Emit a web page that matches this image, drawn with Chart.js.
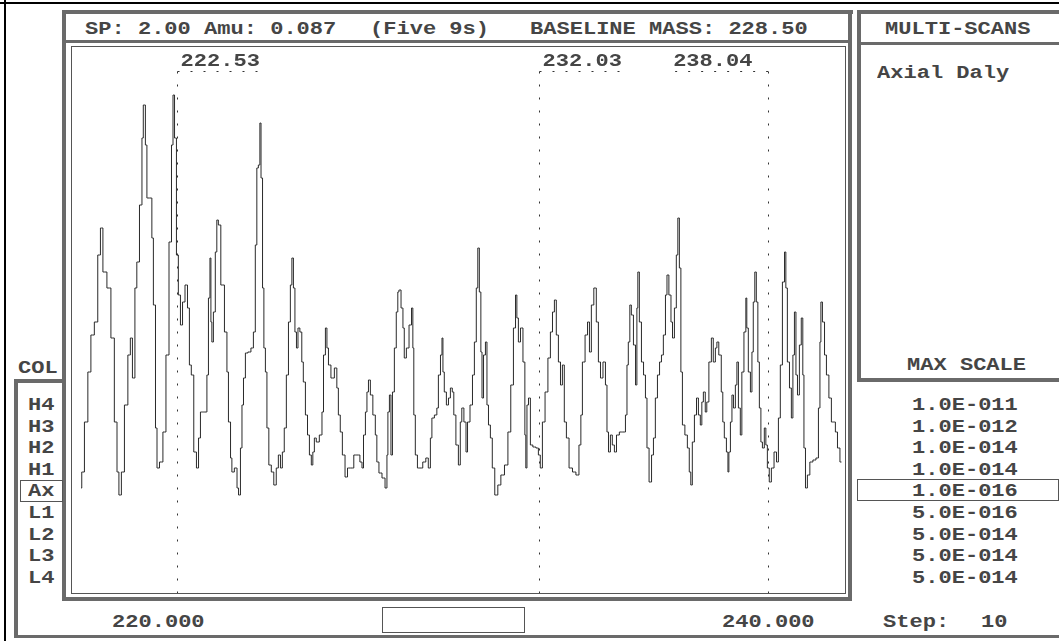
<!DOCTYPE html>
<html>
<head>
<meta charset="utf-8">
<script src="https://cdn.jsdelivr.net/npm/chart.js@4.4.1/dist/chart.umd.min.js"></script>
<style>
	body { margin: 0; background: #fff; }
	#screen { position: relative; width: 1059px; height: 641px; overflow: hidden; background: #fff; }
	#plot { position: absolute; left: 0; top: 0; z-index: 2; }
	.hatch { position: absolute; background: #6a6a6a; }
	.black { position: absolute; background: #000; }
	.box { position: absolute; box-sizing: border-box; border: 1px solid #555; }
	.t {
		position: absolute; white-space: pre; line-height: 20px; height: 20px;
		font: bold 19px "Liberation Mono", monospace; color: #454545;
		transform: scaleX(1.16); transform-origin: 0 50%;
	}
</style>
</head>
<body>
<div id="screen">
	<!-- page edge -->
	<div class="black" style="left:0;top:2px;width:1059px;height:2px"></div>
	<div class="black" style="left:4px;top:0;width:2px;height:641px"></div>

	<!-- plot frame -->
	<div class="hatch" style="left:62px;top:10px;width:791px;height:4px"></div>
	<div class="hatch" style="left:62px;top:10px;width:4px;height:591px"></div>
	<div class="hatch" style="left:848px;top:10px;width:4px;height:591px"></div>
	<div class="hatch" style="left:62px;top:597px;width:790px;height:4px"></div>
	<div class="hatch" style="left:66px;top:40px;width:782px;height:3px"></div>
	<div class="box" style="left:71px;top:46px;width:775px;height:548px"></div>

	<!-- right panel -->
	<div class="hatch" style="left:857px;top:10px;width:4px;height:372px"></div>
	<div class="hatch" style="left:857px;top:10px;width:202px;height:4px"></div>
	<div class="hatch" style="left:857px;top:42px;width:202px;height:3px"></div>
	<div class="hatch" style="left:857px;top:378px;width:202px;height:4px"></div>

	<!-- left collector panel and bottom bar -->
	<div class="hatch" style="left:14px;top:379px;width:52px;height:4px"></div>
	<div class="hatch" style="left:14px;top:379px;width:4px;height:259px"></div>
	<div class="hatch" style="left:14px;top:635px;width:1045px;height:3px"></div>
	<div class="box" style="left:382px;top:607px;width:143px;height:26px"></div>
	<div class="box" style="left:20px;top:480px;width:43px;height:22px"></div>
	<div class="box" style="left:857px;top:479px;width:202px;height:22px"></div>

	<div class="t" style="left:85px;top:18px">SP: 2.00 Amu: 0.087</div>
	<div class="t" style="left:370px;top:18px">(Five 9s)</div>
	<div class="t" style="left:530px;top:18px">BASELINE MASS: 228.50</div>
	<div class="t" style="left:885px;top:18px">MULTI-SCANS</div>
	<div class="t" style="left:877px;top:62px">Axial Daly</div>
	<div class="t" style="left:18px;top:357px">COL</div>
	<div class="t" style="left:907px;top:354px">MAX SCALE</div>
	<div class="t" style="left:112px;top:611px">220.000</div>
	<div class="t" style="left:722px;top:611px">240.000</div>
	<div class="t" style="left:883px;top:611px">Step:</div>
	<div class="t" style="left:981px;top:611px">10</div>

	<canvas id="plot" width="1059" height="641"></canvas>
</div>
<script>
// Mass axis (amu) of the scan trace
let mass = [
	220.00, 220.04, 220.14, 220.22, 220.30, 220.40, 220.48, 220.54, 220.61, 220.75,
	220.82, 220.93, 220.96, 221.03, 221.09, 221.19, 221.27, 221.32, 221.38, 221.45,
	221.48, 221.59, 221.61, 221.66, 221.72, 221.74, 221.85, 221.87, 221.93, 221.98,
	222.01, 222.11, 222.19, 222.27, 222.35, 222.40, 222.43, 222.48, 222.53, 222.58,
	222.64, 222.69, 222.77, 222.82, 222.87, 222.92, 223.00, 223.06, 223.11, 223.16,
	223.21,
	223.29, 223.32, 223.37, 223.40, 223.42, 223.45, 223.50, 223.55, 223.58, 223.63,
	223.71, 223.82, 223.84, 223.90, 223.95, 223.97, 224.08, 224.11, 224.16, 224.21,
	224.24, 224.29, 224.34, 224.42, 224.50, 224.55, 224.60, 224.63, 224.68, 224.71,
	224.74, 224.79, 224.81, 224.87, 224.89, 224.97, 225.02, 225.10, 225.15, 225.21,
	225.26, 225.31, 225.36, 225.42, 225.47, 225.52, 225.55, 225.60, 225.63, 225.68,
	225.71, 225.78, 225.81, 225.86, 225.92, 225.97, 226.02, 226.07, 226.10, 226.15,
	226.20, 226.31, 226.34, 226.39, 226.44, 226.47, 226.52, 226.60,
	226.70, 226.73, 226.78, 226.83, 226.89, 226.97, 227.02, 227.12, 227.20, 227.28,
	227.36, 227.39, 227.44, 227.49, 227.52, 227.57, 227.62, 227.70, 227.75, 227.78,
	227.86, 227.94, 228.02, 228.04, 228.07, 228.12, 228.15, 228.20, 228.25, 228.30,
	228.33, 228.36, 228.44, 228.46, 228.51, 228.57, 228.65, 228.70, 228.72, 228.75,
	228.80, 228.86, 228.93, 229.01, 229.09, 229.14, 229.20, 229.22, 229.33, 229.35,
	229.41, 229.46, 229.49, 229.51, 229.56, 229.62, 229.67, 229.72, 229.77, 229.80,
	229.88, 229.93, 229.98, 230.01,
	230.09, 230.12, 230.17, 230.25, 230.30, 230.35, 230.40, 230.43, 230.48, 230.51,
	230.54, 230.59, 230.64, 230.67, 230.72, 230.77, 230.82, 230.90, 230.98, 231.06,
	231.17, 231.24, 231.32, 231.38, 231.43, 231.45, 231.51, 231.56, 231.64, 231.66,
	231.69, 231.72, 231.77, 231.82, 231.90, 231.98, 232.03, 232.08, 232.14, 232.22,
	232.29, 232.35, 232.40, 232.45, 232.50, 232.56, 232.61, 232.66, 232.71, 232.77,
	232.85, 232.95, 233.03, 233.11, 233.13, 233.19, 233.27, 233.32, 233.37, 233.42,
	233.50, 233.55, 233.61, 233.66, 233.74, 233.79, 233.82, 233.87, 233.92, 233.97,
	234.03, 234.08, 234.18, 234.26, 234.32, 234.34, 234.39, 234.42, 234.47, 234.53,
	234.58, 234.60, 234.63, 234.68, 234.74, 234.79, 234.84, 234.87, 234.95, 235.00,
	235.05, 235.10, 235.16, 235.21, 235.26, 235.31, 235.37, 235.39, 235.47, 235.50,
	235.55, 235.60, 235.65, 235.68, 235.73, 235.76, 235.81, 235.89, 235.94, 235.99,
	236.02, 236.07, 236.13, 236.18, 236.23, 236.28, 236.31, 236.36, 236.41, 236.44,
	236.52, 236.57, 236.62, 236.68, 236.70, 236.78, 236.83, 236.86,
	236.91, 236.97, 236.99, 237.02, 237.07, 237.10, 237.15, 237.20, 237.23, 237.28,
	237.33, 237.36, 237.44, 237.46, 237.49, 237.54, 237.60, 237.62, 237.67, 237.70,
	237.75, 237.78, 237.83, 237.86, 237.91, 237.96, 237.99, 238.04, 238.09, 238.15,
	238.23, 238.28, 238.33, 238.38, 238.44, 238.49, 238.51, 238.57, 238.62, 238.67,
	238.70, 238.75, 238.78, 238.83, 238.88, 238.93, 238.96, 238.99, 239.04, 239.09,
	239.17, 239.25, 239.33, 239.38, 239.41, 239.43, 239.49, 239.54, 239.59, 239.67,
	239.72, 239.77, 239.83, 239.88, 239.96,
]

// Axial Daly signal (arbitrary units) at each mass
let intensity = [
	107, 123, 173, 223, 260, 273, 340, 367, 323, 307,
	257, 173, 123, 100, 123, 190, 240, 257, 217, 307,
	333, 390, 457, 490, 450, 397, 397, 357, 290, 167,
	127, 133, 163, 240, 353, 450, 500, 457, 340, 300,
	270, 293, 310, 287, 230, 220, 143, 127, 157, 183,
	183,
	183, 220, 297, 337, 273, 253, 283, 343, 375, 370,
	310, 263, 223, 173, 137, 123, 127, 107, 100, 147,
	190, 217, 242, 243, 247, 263, 350, 427, 430, 472,
	417, 307, 247, 223, 167, 130, 123, 110, 127, 140,
	127, 143, 167, 220, 273, 310, 337, 307, 263, 247,
	267, 263, 233, 213, 180, 160, 140, 130, 143, 157,
	153, 160, 183, 240, 267, 247, 230, 217,
	227, 207, 180, 163, 140, 118, 127, 127, 140, 140,
	133, 127, 160, 183, 203, 215, 200, 180, 160, 133,
	122, 117, 107, 140, 183, 200, 140, 203, 247, 283,
	303, 305, 287, 267, 237, 247, 270, 287, 247, 180,
	140, 127, 127, 133, 137, 127, 157, 177, 180, 187,
	220, 240, 257, 223, 203, 190, 197, 207, 203, 180,
	150, 130, 173, 187,
	173, 143, 173, 190, 220, 253, 307, 347, 303, 243,
	197, 240, 253, 190, 170, 157, 127, 100, 110, 120,
	130, 163, 210, 267, 300, 277, 253, 267, 233, 160,
	127, 190, 197, 150, 148, 147, 140, 127, 173, 203,
	237, 263, 283, 295, 260, 233, 210, 230, 173, 157,
	127, 123, 120, 150, 180, 233, 260, 273, 243, 290,
	307, 273, 233, 217, 233, 210, 163, 143, 160, 150,
	143, 160, 163, 163, 180, 230, 253, 290, 280, 250,
	210, 287, 323, 273, 233, 220, 197, 147, 113, 140,
	157, 197, 220, 233, 240, 260, 300, 320, 300, 273,
	257, 287, 340, 377, 327, 223, 170, 160, 147, 123,
	110, 153, 180, 197, 180, 170, 193, 203, 183, 193,
	233, 257, 233, 247, 253, 240, 203, 173,
	157, 143, 123, 143, 173, 200, 187, 210, 233, 187,
	160, 223, 263, 297, 267, 223, 203, 243, 293, 323,
	293, 233, 187, 153, 147, 167, 150, 127, 113, 127,
	143, 133, 177, 230, 313, 343, 307, 233, 207, 177,
	240, 283, 220, 200, 250, 277, 220, 147, 107, 120,
	133, 135, 137, 187, 253, 293, 273, 240, 220, 197,
	173, 173, 163, 147, 133,
]

// Peak markers
let markerMasses = [222.53, 232.03, 238.04]
let markerLabels = ["222.53", "232.03", "238.04"]

// Side panels
let collectors = ["H4", "H3", "H2", "H1", "Ax", "L1", "L2", "L3", "L4"]
let maxScales = ["1.0E-011", "1.0E-012", "1.0E-014", "1.0E-014", "1.0E-016", "5.0E-016", "5.0E-014", "5.0E-014", "5.0E-014"]

let screen = document.getElementById("screen")

function addText(str, x, cy) {
	let d = document.createElement("div")
	d.className = "t"
	d.textContent = str
	d.style.left = x + "px"
	d.style.top = (cy - 10) + "px"
	screen.appendChild(d)
}

collectors.forEach(function (c, i) {
	addText(c, 28, 404 + i * 21.6)
})
maxScales.forEach(function (s, i) {
	addText(s, 912, 404 + i * 21.6)
})

// Dotted marker lines with their mass labels
let markerPlugin = {
	id: "markers",
	afterDatasetsDraw(chart) {
		let ctx = chart.ctx
		let area = chart.chartArea
		let xs = chart.scales.x
		ctx.save()
		ctx.font = 'bold 19px "Liberation Mono", monospace'
		ctx.strokeStyle = "#333"
		ctx.lineWidth = 1
		ctx.setLineDash([2, 11])
		markerMasses.forEach(function (m, i) {
			let px = Math.round(xs.getPixelForValue(m)) + 0.5
			let lineY = area.top + 27.5
			let label = markerLabels[i]
			let w = ctx.measureText(label).width * 1.16
			let onRight = px + w + 6 <= area.right

			ctx.beginPath()
			ctx.moveTo(px, lineY)
			ctx.lineTo(px, area.bottom - 2)
			ctx.stroke()

			let x0 = onRight ? px : px - w - 14
			let x1 = onRight ? px + w + 4 : px
			ctx.beginPath()
			ctx.moveTo(x0, lineY)
			ctx.lineTo(x1, lineY)
			ctx.stroke()

			ctx.save()
			ctx.translate(onRight ? px + 3 : px - 16 - w, area.top + 17)
			ctx.scale(1.16, 1)
			ctx.textBaseline = "middle"
			ctx.fillStyle = "#454545"
			ctx.fillText(label, 0, 0)
			ctx.restore()
		})
		ctx.restore()
	}
}

let config = {
	type: "line",
	data: {
		datasets: [{
			data: mass.map(function (m, i) {
				return {x: m, y: intensity[i]}
			}),
			borderColor: "#2a2a2a",
			borderWidth: 1,
			pointRadius: 0,
			stepped: "middle",
			fill: false,
		}],
	},
	options: {
		responsive: false,
		animation: false,
		layout: {
			padding: {left: 81, right: 216, top: 44, bottom: 46}
		},
		plugins: {
			legend: {display: false},
			tooltip: {enabled: false},
		},
		scales: {
			x: {type: "linear", min: 220, max: 240, display: false},
			y: {min: 0, max: 551, display: false},
		},
	},
	plugins: [markerPlugin],
}

new Chart(document.getElementById("plot"), config)
</script>
</body>
</html>
